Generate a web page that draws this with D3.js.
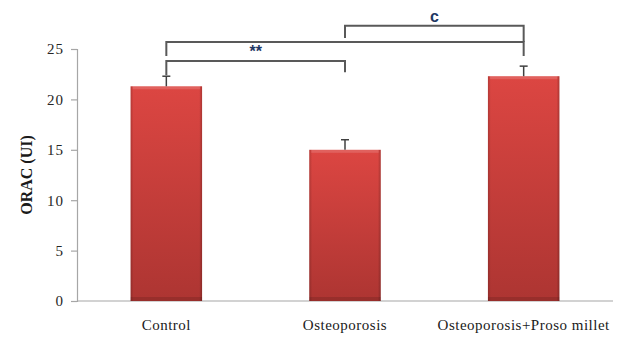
<!DOCTYPE html>
<html><head><meta charset="utf-8">
<script src="https://cdn.jsdelivr.net/npm/d3@7"></script>
<style>body{margin:0;background:#fff}svg{display:block}
.serif{font-family:"Liberation Serif","Times New Roman","DejaVu Serif",serif}</style>
</head><body>
<script>
const categories = ["Control", "Osteoporosis", "Osteoporosis+Proso millet"];
const values = [21.3, 15.0, 22.3];
const errors = [1.0, 1.0, 1.0];
const yTicks = [0, 5, 10, 15, 20, 25];
const yLabel = "ORAC (UI)";
const sigFrom = [0, 0, 1];
const sigTo = [1, 2, 2];
const sigLabels = ["**", "", "c"];

const W = 619, H = 348;
const svg = d3.select("body").append("svg").attr("width", W).attr("height", H);
const defs = svg.append("defs");
const g1 = defs.append("linearGradient").attr("id","gv").attr("x1",0).attr("y1",0).attr("x2",0).attr("y2",1);
g1.append("stop").attr("offset","0%").attr("stop-color","#dc4642");
g1.append("stop").attr("offset","100%").attr("stop-color","#ad3532");
const g2 = defs.append("linearGradient").attr("id","gh").attr("x1",0).attr("y1",0).attr("x2",1).attr("y2",0);
g2.append("stop").attr("offset","0%").attr("stop-color","#000").attr("stop-opacity",0.18);
g2.append("stop").attr("offset","4%").attr("stop-color","#000").attr("stop-opacity",0);
g2.append("stop").attr("offset","96%").attr("stop-color","#000").attr("stop-opacity",0);
g2.append("stop").attr("offset","100%").attr("stop-color","#000").attr("stop-opacity",0.22);

const x = d3.scaleBand().domain(categories).range([77, 613]).paddingInner(0.6).paddingOuter(0.3);
const y = d3.scaleLinear().domain([0, 25]).range([301, 49]);

const ya = svg.append("g").attr("transform","translate(77,0)")
  .call(d3.axisLeft(y).tickValues(yTicks).tickSize(6).tickPadding(7));
ya.attr("font-family", null).attr("font-size", null);
ya.select(".domain").attr("stroke","#a6a6a6").attr("stroke-width",1.2);
ya.selectAll(".tick line").attr("stroke","#a6a6a6").attr("stroke-width",1.2);
ya.selectAll(".tick text").attr("class","serif").style("font-size","15px").style("letter-spacing","1px").attr("fill","#262626");

const xa = svg.append("g").attr("transform","translate(0,301)")
  .call(d3.axisBottom(x).tickSize(0).tickPadding(18));
xa.attr("font-family", null).attr("font-size", null);
xa.select(".domain").attr("stroke","#a6a6a6").attr("stroke-width",1.2).attr("d","M77,0H613");
xa.selectAll(".tick text").attr("class","serif").style("font-size","15px").style("letter-spacing","0.5px").attr("fill","#1a1a1a");

svg.append("text").attr("class","serif").attr("transform",`translate(32,${y(12.5)}) rotate(-90)`)
  .attr("text-anchor","middle").style("font-weight","bold")
  .style("font-size","16px").attr("fill","#1a1a1a").text(yLabel);

const bars = svg.append("g");
categories.forEach((c,i)=>{
  const bx = x(c), bw = x.bandwidth(), by = y(values[i]), bh = y(0)-y(values[i]);
  bars.append("rect").attr("x",bx).attr("y",by).attr("width",bw).attr("height",bh).attr("fill","url(#gv)");
  bars.append("rect").attr("x",bx).attr("y",by).attr("width",bw).attr("height",bh).attr("fill","url(#gh)");
  bars.append("rect").attr("x",bx+2).attr("y",by).attr("width",bw-4).attr("height",3).attr("fill","#fff").attr("opacity",0.15);
  bars.append("rect").attr("x",bx).attr("y",y(0)-4).attr("width",bw).attr("height",4).attr("fill","#000").attr("opacity",0.12);
  const cx = bx + bw/2;
  bars.append("line").attr("x1",cx).attr("x2",cx).attr("y1",by).attr("y2",y(values[i]+errors[i]))
    .attr("stroke","#404040").attr("stroke-width",1.5);
  bars.append("line").attr("x1",cx-4).attr("x2",cx+4).attr("y1",y(values[i]+errors[i])).attr("y2",y(values[i]+errors[i]))
    .attr("stroke","#404040").attr("stroke-width",1.5);
});

const cxOf = i => x(categories[i]) + x.bandwidth()/2;
const br = svg.append("g").attr("fill","none").attr("stroke","#595959").attr("stroke-width",2);
const lvl = [23.8, 25.7, 27.3];
const leftEnd = [22.4, 24.3, 26.1];
const rightEnd = [22.7, 24.3, 25.7];
sigFrom.forEach((f,k)=>{
  const x1 = cxOf(f), x2 = cxOf(sigTo[k]), yy = y(lvl[k]);
  br.append("path").attr("d",`M${x1},${y(leftEnd[k])}V${yy}H${x2}V${y(rightEnd[k])}`);
  if (sigLabels[k]) {
    svg.append("text").attr("x",(x1+x2)/2).attr("y",yy-4).attr("text-anchor","middle")
      .style("font-family","'Liberation Sans',Arial,sans-serif").style("font-weight","bold")
      .style("font-size","16px").attr("fill","#1f3864").text(sigLabels[k]);
  }
});
</script>
</body></html>
